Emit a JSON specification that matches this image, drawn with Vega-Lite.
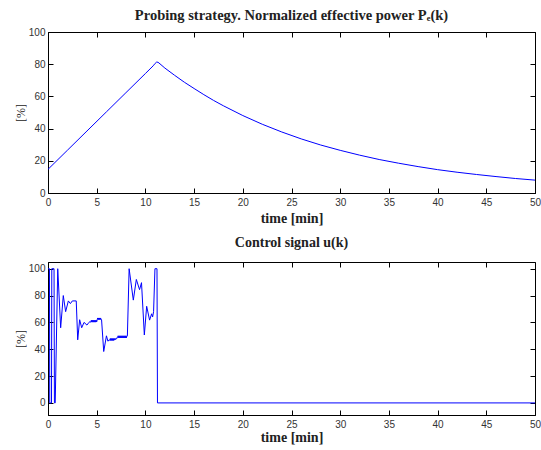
{
  "$schema": "https://vega.github.io/schema/vega-lite/v6.json",
  "padding": {"left": 13, "top": 7, "right": 2, "bottom": 2},
  "spacing": 9,
  "datasets": {
    "pe": [
      {"t": 0, "v": 14.7}, {"t": 2, "v": 26.6}, {"t": 4, "v": 38.5}, {"t": 6, "v": 50.4},
      {"t": 8, "v": 62.3}, {"t": 10, "v": 74.2}, {"t": 10.8, "v": 79.0}, {"t": 11.0, "v": 80.5},
      {"t": 11.15, "v": 81.3}, {"t": 11.3, "v": 81.2}, {"t": 11.5, "v": 80.2}, {"t": 12, "v": 77.6},
      {"t": 13, "v": 73.1}, {"t": 14, "v": 68.8}, {"t": 15, "v": 64.9}, {"t": 16, "v": 61.1},
      {"t": 17, "v": 57.5}, {"t": 18, "v": 54.2}, {"t": 20, "v": 48.1}, {"t": 22, "v": 42.7},
      {"t": 24, "v": 37.9}, {"t": 26, "v": 33.6}, {"t": 28, "v": 29.8}, {"t": 30, "v": 26.5},
      {"t": 32, "v": 23.5}, {"t": 34, "v": 20.8}, {"t": 36, "v": 18.5}, {"t": 38, "v": 16.4},
      {"t": 40, "v": 14.5}, {"t": 42, "v": 12.9}, {"t": 44, "v": 11.5}, {"t": 46, "v": 10.2},
      {"t": 48, "v": 9.0}, {"t": 50, "v": 8.0}
    ],
    "u": [
      {"t": 0, "v": 100}, {"t": 0.15, "v": 100}, {"t": 0.18, "v": 0}, {"t": 0.36, "v": 0},
      {"t": 0.39, "v": 100}, {"t": 0.62, "v": 100}, {"t": 0.66, "v": 0}, {"t": 0.74, "v": 0},
      {"t": 1.0, "v": 100}, {"t": 1.3, "v": 56}, {"t": 1.57, "v": 80}, {"t": 1.81, "v": 68},
      {"t": 2.09, "v": 76}, {"t": 2.3, "v": 74}, {"t": 2.5, "v": 76}, {"t": 2.9, "v": 76},
      {"t": 3.05, "v": 47}, {"t": 3.25, "v": 62}, {"t": 3.46, "v": 56}, {"t": 3.7, "v": 60},
      {"t": 4.0, "v": 58}, {"t": 4.2, "v": 60}, {"t": 4.3, "v": 60.5},
      {"t": 4.40, "v": 60.2}, {"t": 4.45, "v": 61.6}, {"t": 4.50, "v": 60.2}, {"t": 4.55, "v": 61.6},
      {"t": 4.60, "v": 60.2}, {"t": 4.65, "v": 61.6}, {"t": 4.70, "v": 60.2}, {"t": 4.75, "v": 61.6},
      {"t": 4.80, "v": 60.2}, {"t": 4.85, "v": 61.6}, {"t": 4.90, "v": 60.2}, {"t": 4.95, "v": 61.6},
      {"t": 5.00, "v": 60.4}, {"t": 5.05, "v": 62}, {"t": 5.10, "v": 63.3}, {"t": 5.15, "v": 62},
      {"t": 5.20, "v": 63.3}, {"t": 5.25, "v": 62}, {"t": 5.30, "v": 63.3}, {"t": 5.35, "v": 62},
      {"t": 5.40, "v": 63.3}, {"t": 5.45, "v": 62}, {"t": 5.5, "v": 62},
      {"t": 5.72, "v": 38.3}, {"t": 6.0, "v": 50}, {"t": 6.15, "v": 46}, {"t": 6.3, "v": 47},
      {"t": 6.35, "v": 46.5}, {"t": 6.4, "v": 48}, {"t": 6.45, "v": 46.5}, {"t": 6.5, "v": 48},
      {"t": 6.55, "v": 46.5}, {"t": 6.6, "v": 48}, {"t": 6.65, "v": 46.5}, {"t": 6.7, "v": 48},
      {"t": 6.75, "v": 46.5}, {"t": 6.8, "v": 48}, {"t": 6.85, "v": 47}, {"t": 6.9, "v": 48},
      {"t": 6.95, "v": 47.2}, {"t": 7.05, "v": 48.5},
      {"t": 7.15, "v": 48.5}, {"t": 7.2, "v": 50}, {"t": 7.25, "v": 48.5}, {"t": 7.3, "v": 50},
      {"t": 7.35, "v": 48.5}, {"t": 7.4, "v": 50}, {"t": 7.45, "v": 48.5}, {"t": 7.5, "v": 50},
      {"t": 7.55, "v": 48.5}, {"t": 7.6, "v": 50}, {"t": 7.65, "v": 48.5}, {"t": 7.7, "v": 50},
      {"t": 7.75, "v": 48.5}, {"t": 7.8, "v": 50}, {"t": 7.85, "v": 48.5}, {"t": 7.9, "v": 50},
      {"t": 7.95, "v": 48.5}, {"t": 8.0, "v": 50}, {"t": 8.05, "v": 48.5}, {"t": 8.1, "v": 50},
      {"t": 8.15, "v": 50}, {"t": 8.33, "v": 100}, {"t": 8.76, "v": 76.6}, {"t": 9.07, "v": 92},
      {"t": 9.4, "v": 84.4}, {"t": 9.6, "v": 89.6}, {"t": 9.89, "v": 50.6}, {"t": 10.13, "v": 72},
      {"t": 10.43, "v": 61.7}, {"t": 10.64, "v": 66.4}, {"t": 10.74, "v": 64}, {"t": 10.84, "v": 68},
      {"t": 10.98, "v": 100}, {"t": 11.19, "v": 100}, {"t": 11.24, "v": 0}, {"t": 50, "v": 0}
    ]
  },
  "config": {
    "view": {"stroke": "black", "strokeWidth": 1},
    "title": {"font": "Liberation Serif", "fontSize": 14, "fontWeight": "bold", "color": "#222"},
    "axis": {
      "domainColor": "black", "domainWidth": 1,
      "tickColor": "black", "tickSize": -5, "tickWidth": 1,
      "grid": false,
      "labelFont": "Liberation Sans", "labelFontSize": 10, "labelColor": "#333",
      "titleFont": "Liberation Serif", "titleColor": "#222"
    },
    "axisX": {"labelPadding": 9.5, "labelFlush": false, "titleFontSize": 14, "titleFontWeight": "bold", "titlePadding": 4},
    "axisY": {"labelPadding": 8, "titleFontSize": 12, "titleFontWeight": "normal", "titlePadding": 1}
  },
  "vconcat": [
    {
      "title": {"text": "Probing strategy. Normalized effective power Pₑ(k)", "offset": 3.3, "fontSize": 14.5},
      "width": 487,
      "height": 161,
      "data": {"name": "pe"},
      "layer": [
        {
          "mark": {"type": "line", "color": "#0000ff", "strokeWidth": 1},
          "encoding": {
            "x": {"field": "t", "type": "quantitative", "scale": {"domain": [0, 50], "nice": false},
                  "axis": {"title": "time [min]", "values": [0,5,10,15,20,25,30,35,40,45,50]}},
            "y": {"field": "v", "type": "quantitative", "scale": {"domain": [0, 100], "nice": false},
                  "axis": {"title": "[%]", "values": [0,20,40,60,80,100]}}
          }
        },
        {
          "mark": {"type": "line", "color": "#0000ff", "strokeWidth": 1, "opacity": 0},
          "encoding": {
            "x": {"field": "t", "type": "quantitative", "scale": {"domain": [0, 50], "nice": false},
                  "axis": {"orient": "top", "title": null, "labels": false, "domain": false, "values": [0,5,10,15,20,25,30,35,40,45,50]}},
            "y": {"field": "v", "type": "quantitative", "scale": {"domain": [0, 100], "nice": false},
                  "axis": {"orient": "right", "title": null, "labels": false, "domain": false, "values": [0,20,40,60,80,100]}}
          }
        }
      ],
      "resolve": {"axis": {"x": "independent", "y": "independent"}}
    },
    {
      "title": {"text": "Control signal u(k)", "offset": 12},
      "width": 487,
      "height": 153,
      "data": {"name": "u"},
      "layer": [
        {
          "mark": {"type": "line", "color": "#0000ff", "strokeWidth": 1},
          "encoding": {
            "x": {"field": "t", "type": "quantitative", "scale": {"domain": [0, 50], "nice": false},
                  "axis": {"title": "time [min]", "values": [0,5,10,15,20,25,30,35,40,45,50], "labelPadding": 9, "titlePadding": 1.5}},
            "y": {"field": "v", "type": "quantitative", "scale": {"domain": [-9, 105], "nice": false},
                  "axis": {"title": "[%]", "values": [0,20,40,60,80,100]}}
          }
        },
        {
          "mark": {"type": "line", "color": "#0000ff", "strokeWidth": 1, "opacity": 0},
          "encoding": {
            "x": {"field": "t", "type": "quantitative", "scale": {"domain": [0, 50], "nice": false},
                  "axis": {"orient": "top", "title": null, "labels": false, "domain": false, "values": [0,5,10,15,20,25,30,35,40,45,50]}},
            "y": {"field": "v", "type": "quantitative", "scale": {"domain": [-9, 105], "nice": false},
                  "axis": {"orient": "right", "title": null, "labels": false, "domain": false, "values": [0,20,40,60,80,100]}}
          }
        }
      ],
      "resolve": {"axis": {"x": "independent", "y": "independent"}}
    }
  ]
}
